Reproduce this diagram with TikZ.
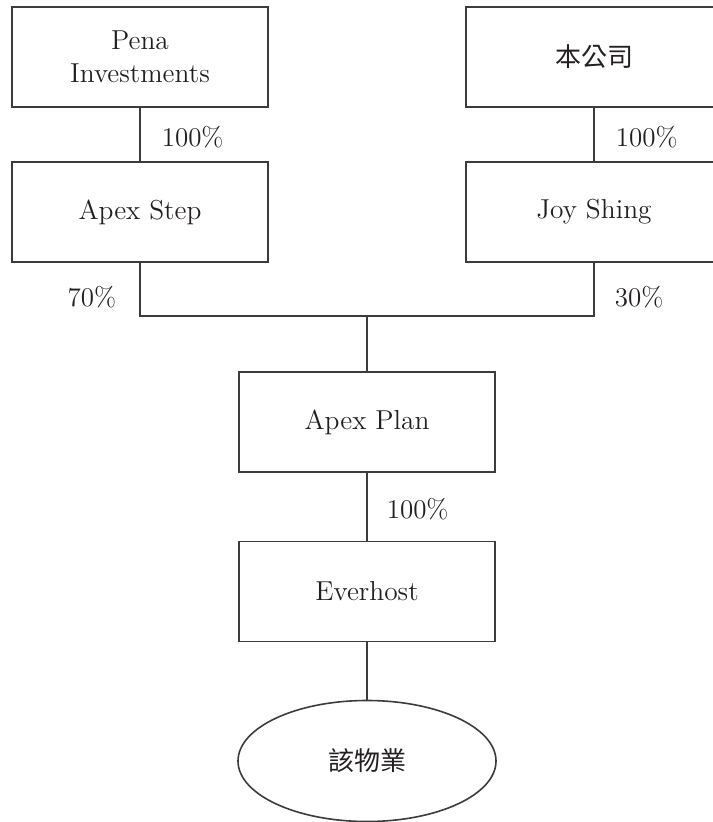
\documentclass[tikz,border=0pt]{standalone}
\usepackage{fontspec}
\newfontfamily\cjk{Noto Sans CJK TC}
\usetikzlibrary{positioning,shapes.geometric}
\definecolor{inkgray}{HTML}{231F20}
\definecolor{rulegray}{HTML}{3C3C3C}
\tikzset{
  entity/.style={draw=rulegray,line width=0.8pt,minimum width=128pt,minimum height=50pt,
    align=center,text=inkgray,font=\fontsize{13.7}{16.5}\selectfont},
  holding/.style={draw=rulegray,line width=0.8pt,ellipse,minimum width=129pt,minimum height=60.5pt,
    text=inkgray,font=\fontsize{13}{16.5}\selectfont},
  link/.style={draw=rulegray,line width=0.8pt},
  pct/.style={inner sep=0pt,text=inkgray,font=\fontsize{13.5}{16.5}\selectfont}
}
\begin{document}
\begin{tikzpicture}[x=0.5pt,y=-0.5pt,on grid,node distance=77.5pt]
   \useasboundingbox (0,0) rectangle (712,822);
   \node[entity] (pena) at (140,57) {Pena\\Investments};
   \node[entity] (apexstep) [below=of pena] {Apex Step};
   \node[entity] (company) [right=227pt of pena] {\cjk\fontsize{13}{16.5}\selectfont 本公司};
   \node[entity] (joyshing) [below=of company] {Joy Shing};
   \coordinate (joint) at (367,316);
   \node[entity] (apexplan) at (367,422) {Apex Plan};
   \node[entity] (everhost) [below=84.75pt of apexplan] {Everhost};
   \node[holding] (property) [below=84.75pt of everhost] {\cjk 該物業};
    \path[link]
    (pena) edge node[pct,right=10.5pt,pos=0.55] (pena_pct) {100\%} (apexstep)
    (company) edge node[pct,right=10.5pt,pos=0.55] (company_pct) {100\%} (joyshing)
    (joint) edge (apexplan)
    (apexplan) edge node[pct,right=9.5pt,pos=0.54] (apexplan_pct) {100\%} (everhost)
    (everhost) edge (property);
    \draw[link] (apexstep.south) -- node[pct,left=11.5pt,pos=0.65] (apexstep_pct) {70\%}
      (apexstep.south |- joint) -- (joyshing.south |- joint)
      -- node[pct,right=10pt,pos=0.35] (joyshing_pct) {30\%} (joyshing.south);
\end{tikzpicture}
\end{document}
